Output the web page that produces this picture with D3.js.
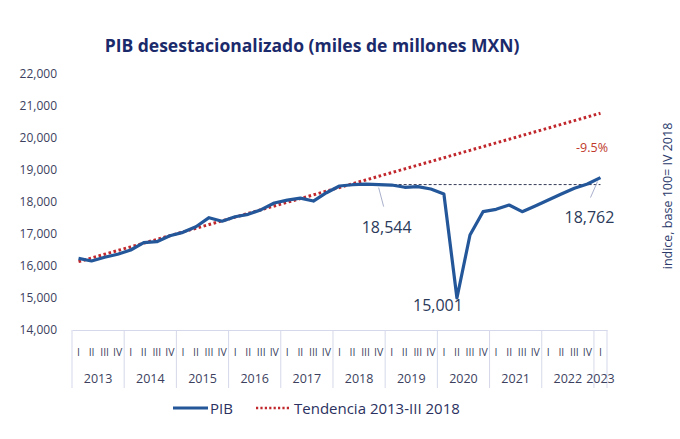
<!DOCTYPE html>
<html><head><meta charset="utf-8">
<script src="https://cdn.jsdelivr.net/npm/d3@7"></script>
<style>body{margin:0;background:#fff}svg{display:block;font-family:"Open Sans",sans-serif}</style>
</head><body><svg id="c" width="680" height="439"></svg>
<script>
const years = ["2013","2014","2015","2016","2017","2018","2019","2020","2021","2022","2023"];
const quarterNames = ["I","II","III","IV"];
const pib = [16240,16156,16272,16366,16500,16728,16760,16947,17052,17228,17510,17400,17540,17615,17760,17970,18060,18120,18030,18290,18500,18540,18560,18544,18530,18460,18480,18406,18250,15001,16969,17697,17771,17906,17697,17875,18062,18250,18427,18562,18762];
const tendencia = [16135,16251,16367,16483,16599,16715,16831,16947,17063,17179,17295,17411,17527,17643,17759,17875,17991,18107,18223,18339,18455,18571,18687,18803,18919,19035,19151,19267,19383,19499,19615,19731,19847,19963,20079,20195,20311,20427,20543,20659,20775];
const yTicks = [14000,15000,16000,17000,18000,19000,20000,21000,22000];
const title = "PIB desestacionalizado (miles de millones MXN)";
const annotations = [{idx:23,text:"18,544"},{idx:29,text:"15,001"},{idx:40,text:"18,762"}];

const svg = d3.select("#c");
const quarters = [];
years.forEach(y => { const n = y==="2023"?1:4; for(let q=0;q<n;q++) quarters.push({year:y,q:quarterNames[q],key:y+"-"+q}); });

const x = d3.scaleBand().domain(quarters.map(d=>d.key)).range([72,607]).padding(0);
const y = d3.scaleLinear().domain([14000,22000]).range([330,74]);
const cx = i => x(quarters[i].key) + x.bandwidth()/2;

const navy = "#2b3160";
// title
svg.append("text").attr("x",312).attr("y",52).attr("text-anchor","middle")
  .attr("font-size",17.5).attr("font-weight",700).attr("fill","#1b2a6b").text(title);

// y axis
const yAxis = d3.axisLeft(y).tickValues(yTicks).tickFormat(d3.format(",")).tickSize(0).tickPadding(0);
const gy = svg.append("g").attr("transform","translate(57,0)").call(yAxis);
gy.select(".domain").remove();
gy.selectAll("text").attr("font-size",12).attr("fill","#3c3f5e").attr("font-family","Open Sans").attr("dy","0.32em");

// x axis
const xAxis = d3.axisBottom(x).tickSize(0).tickFormat(k => quarters.find(d=>d.key===k).q);
const gx = svg.append("g").attr("transform","translate(0,330)").call(xAxis);
gx.select(".domain").attr("stroke","#d5d8ea");
gx.selectAll("text").attr("font-size",10.5).attr("fill","#3c3f5e").attr("font-family","Open Sans").attr("dy",0).attr("y",26);
// year separators
const yearStarts = years.map(yr => x(yr+"-0"));
const seps = yearStarts.concat([x.range()[1]]);
svg.append("g").selectAll("line").data(seps).join("line")
  .attr("x1",d=>d).attr("x2",d=>d).attr("y1",330).attr("y2",388)
  .attr("stroke","#d5d8ea").attr("stroke-width",1);
// year labels
svg.append("g").selectAll("text").data(years).join("text")
  .attr("x",(yr,i)=>{ const s=x(yr+"-0"); const e = i<years.length-1? x(years[i+1]+"-0") : x.range()[1]; return (s+e)/2; })
  .attr("y",383).attr("text-anchor","middle").attr("font-size",12.5).attr("fill","#3c3f5e").text(d=>d);

// trend
svg.append("path").datum(tendencia)
  .attr("d", d3.line().x((d,i)=>cx(i)).y(d=>y(d)))
  .attr("fill","none").attr("stroke","#c0282d").attr("stroke-width",3).attr("stroke-dasharray","2.6,2.6");

// dashed reference line at 18,544
svg.append("line").attr("x1",cx(23)).attr("x2",cx(40)).attr("y1",y(pib[23])).attr("y2",y(pib[23]))
  .attr("stroke","#333a55").attr("stroke-width",1).attr("stroke-dasharray","3,2");

// PIB line
svg.append("path").datum(pib)
  .attr("d", d3.line().x((d,i)=>cx(i)).y(d=>y(d)))
  .attr("fill","none").attr("stroke","#23579a").attr("stroke-width",3.2).attr("stroke-linejoin","round");

// annotations
const ann = [
  {a:annotations[0], lx1:0, ly1:3, lx2:5, ly2:22, tx:8, ty:48},
  {a:annotations[1], lx1:0, ly1:0, lx2:0, ly2:0, tx:-19, ty:13},
  {a:annotations[2], lx1:-3, ly1:4, lx2:-10, ly2:20, tx:-11, ty:45}
];
ann.forEach(o => {
  const px = cx(o.a.idx), py = y(pib[o.a.idx]);
  if (o.ly2) svg.append("line").attr("x1",px+o.lx1).attr("y1",py+o.ly1).attr("x2",px+o.lx2).attr("y2",py+o.ly2)
      .attr("stroke","#a9b0cc").attr("stroke-width",1);
  svg.append("text").attr("x",px+o.tx).attr("y",py+o.ty).attr("text-anchor","middle")
    .attr("font-size",16).attr("fill","#2b3a5a").text(o.a.text);
});
// -9.5%
svg.append("text").attr("x",592).attr("y",152).attr("text-anchor","middle").attr("font-size",12.5)
  .attr("fill","#c0392b").text("-9.5%");

// right rotated label
svg.append("text").attr("transform","translate(672,196) rotate(-90)").attr("text-anchor","middle")
  .attr("font-size",12.5).attr("fill","#2b3a6b").text("indice, base 100= IV 2018");

// legend
const lg = svg.append("g");
lg.append("line").attr("x1",173).attr("x2",208).attr("y1",408).attr("y2",408).attr("stroke","#23579a").attr("stroke-width",3);
lg.append("text").attr("x",210).attr("y",413.5).attr("font-size",15).attr("fill",navy).text("PIB");
lg.append("line").attr("x1",256).attr("x2",289).attr("y1",408).attr("y2",408).attr("stroke","#c0282d").attr("stroke-width",2.5).attr("stroke-dasharray","2.2,2.2");
lg.append("text").attr("x",294).attr("y",413.5).attr("font-size",15).attr("fill",navy).text("Tendencia 2013-III 2018");
</script></body></html>
